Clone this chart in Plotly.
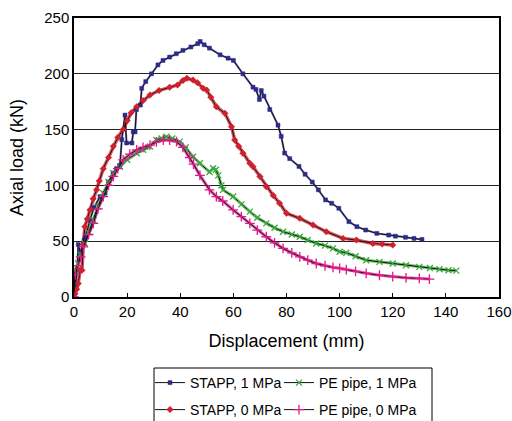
import plotly.graph_objects as go

# ---- data ----
stapp1_x = [0, 0.6, 1.2, 1.6, 2.4, 3.5, 3.8, 4.5, 6, 7.5, 9.8, 11.7, 13, 14.7, 16, 17.3,
            18, 19.2, 19.8, 21.8, 22.3, 23, 23.5, 25, 25.5, 27, 29.2, 31.6, 33.5, 36, 38.5,
            41, 44, 46.6, 47.5, 49, 51, 55, 58, 60, 63.6, 67.4, 68.5, 69.8, 70.5, 71.5,
            73.7, 76.8, 78, 79.3, 81.2, 84.7, 87, 89.7, 92, 94.7, 97, 99.7, 103.5, 106.5,
            109.8, 114, 118.5, 121, 124.8, 128, 131]
stapp1_y = [0, 12, 24, 47, 40, 48, 51, 55, 69, 80, 90, 93, 103, 111, 115, 118,
            141, 163, 138, 138, 148, 148, 168, 172, 187, 193, 200, 208, 212, 215, 218,
            221, 224, 227, 229, 226, 223, 217, 214, 212, 200, 188, 186, 177, 185, 180,
            168, 154, 144, 129, 124, 117, 110, 103, 96, 87, 84, 79.5, 67.5, 63,
            60, 57, 55.5, 54.5, 53.5, 52.5, 51.6]

stapp0_x = [0, 0.4, 1.0, 1.6, 2.3, 3.0, 3.5, 4.1, 5, 6, 7.2, 8.5, 9.5, 11, 13, 14.8,
            16.5, 18.5, 20, 21.5, 23.6, 26, 28.6, 32, 36, 39, 41, 42.5, 44.8, 46.5, 48.6,
            49.9, 51.5, 53.6, 56.8, 59.3, 60.5, 62, 63.6, 66.2, 67.4, 70, 72.4, 75, 77.4, 80,
            85, 90, 95, 101.3, 106.3, 112.5, 116, 120]
stapp0_y = [0, 3, 7, 12, 24, 24, 47, 63, 70, 78, 88, 96, 104, 115, 125, 135,
            143, 150, 158, 165, 170.5, 176, 181, 185, 188, 190, 194, 196, 194.4, 192, 187,
            185.5, 179, 170.5, 164.6, 152.6, 140.7, 135, 128.8, 119.8, 116.8, 108, 98.8, 91, 84, 75,
            70.5, 64.5, 58.5, 52.5, 51, 48, 47.5, 46.6]

pe1_x = [0, 0.4, 1.5, 2.5, 4.1, 5.5, 7.3, 9, 11, 13, 14.8, 17.3, 20, 23.6, 26, 28.6, 31,
         33, 34.8, 37, 39.8, 42, 44.8, 47.4, 51, 52.4, 53.4, 54.3, 55.5, 56.1, 59.9, 63,
         66.2, 69, 72.4, 75.5, 78.7, 82, 85, 88, 91.2, 94.5, 97.5, 100, 102.5, 106, 110,
         115, 120, 125, 130, 134, 137.6, 141, 143.9]
pe1_y = [0, 24, 30, 38, 48, 58, 69, 81, 93, 103, 111, 116.8, 123, 128.8, 132, 134.8, 140.7,
         142, 143.6, 142, 139.2, 134, 125.7, 119.8, 112, 115.3, 114, 109, 100, 96, 90, 83,
         76.5, 71, 66, 62, 58.5, 56, 54, 51, 48, 46, 43.6, 40.6, 39.7, 36.5, 33,
         31.5, 30, 28.5, 27, 26, 24.8, 24, 23.6]

pe0_x = [0, 0.5, 1.5, 2.5, 3.5, 5.5, 7.3, 9, 11, 13, 14.8, 16.5, 18.5, 21, 23.6, 26,
         28.6, 31, 33.6, 36, 38.6, 41, 43.6, 45, 47.4, 51, 53.6, 56, 59.9, 63, 66.2,
         69, 72.4, 75.5, 78.7, 82, 85, 88, 91.2, 94.5, 97.5, 100, 102.5, 106, 110, 115,
         120, 125, 130, 133.8]
pe0_y = [0, 20, 28, 36, 45, 56, 66, 79, 90, 100, 108, 115, 122.8, 128, 131.7, 134,
         136, 139, 140.7, 140.5, 139.2, 134, 125, 119, 109, 96, 90, 86, 78, 72, 66,
         60, 54, 48.5, 43.6, 39.5, 36, 33, 30, 28, 26.5, 25.7, 24.5, 23, 21.2, 19.5,
         18.2, 17.2, 16.6, 16.1]

series_names = ["STAPP, 1 MPa", "PE pipe, 1 MPa", "STAPP, 0 MPa", "PE pipe, 0 MPa"]
series_x = [stapp1_x, pe1_x, stapp0_x, pe0_x]
series_y = [stapp1_y, pe1_y, stapp0_y, pe0_y]
colors = ["#2E2B86", "#3AA83A", "#D0202E", "#E0188A"]
symbols = ["square", "x-thin", "diamond", "cross-thin"]
sizes = [4, 6, 5, 7]
line_w = [0.5, 1.3, 0.5, 1.3]
band_widths = [2, 3, 3.5, 3]
legend_ids = ["legend", "legend2", "legend3", "legend4"]

x_ticks = [0, 20, 40, 60, 80, 100, 120, 140, 160]
y_ticks = [0, 50, 100, 150, 200, 250]

fig = go.Figure()
# coloured bands under the dense markers
for xs, ys, c, bw in zip(series_x, series_y, colors, band_widths):
    fig.add_trace(go.Scatter(x=xs, y=ys, mode="lines", line=dict(color=c, width=bw),
                             opacity=0.75, showlegend=False, hoverinfo="skip"))
for name, xs, ys, c, s, sz, lw, lg in zip(series_names, series_x, series_y, colors, symbols,
                                         sizes, line_w, legend_ids):
    fig.add_trace(go.Scatter(
        x=xs, y=ys, name=name, mode="lines+markers", legend=lg,
        line=dict(color="#111111", width=1),
        marker=dict(symbol=s, size=sz, color=c, line=dict(color=c, width=lw)),
    ))

font_family = "Liberation Sans, Arial, Helvetica, sans-serif"
W, H = 512, 421
ML, MR, MT, MB = 74, 13, 18, 124
PW, PH = W - ML - MR, H - MT - MB
leg_common = dict(xref="container", yref="container", xanchor="left", yanchor="middle",
                  bgcolor="rgba(0,0,0,0)", borderwidth=0, font=dict(size=14),
                  orientation="h")
col_x = [150 / W, 279 / W, 150 / W, 279 / W]
row_y = [1 - 383 / H, 1 - 383 / H, 1 - 410 / H, 1 - 410 / H]

layout_legends = {}
for lg, lx, ly in zip(legend_ids, col_x, row_y):
    layout_legends[lg] = dict(x=lx, y=ly, **leg_common)

fig.update_layout(
    width=W, height=H,
    margin=dict(l=ML, r=MR, t=MT, b=MB),
    paper_bgcolor="white", plot_bgcolor="white",
    font=dict(family=font_family, size=15, color="black"),
    xaxis=dict(
        range=[0, 160], tickvals=x_ticks, ticks="inside", ticklen=4, tickcolor="black",
        showgrid=False, zeroline=False, showline=True, linecolor="black", linewidth=1.5,
        mirror=True, automargin=False, ticklabeloverflow="allow",
        title=dict(text="Displacement (mm)", font=dict(size=18), standoff=16),
        tickfont=dict(size=15),
    ),
    yaxis=dict(
        range=[0, 250], tickvals=y_ticks, ticks="", showgrid=True, gridcolor="#222222",
        gridwidth=1, zeroline=False, showline=True, linecolor="black", linewidth=1.5,
        mirror=True, automargin=False,
        title=dict(text="Axial load (kN)", font=dict(size=18), standoff=16),
        tickfont=dict(size=15),
    ),
    showlegend=True,
    **layout_legends,
)

# legend frame (open at the bottom, cut by the picture edge)
fig.add_shape(type="rect", xref="paper", yref="paper",
              x0=(154 - ML) / PW, x1=(432 - ML) / PW,
              y0=(H - MB - 368) / PH, y1=(H - MB - 430) / PH,
              line=dict(color="black", width=1), fillcolor="rgba(0,0,0,0)")

fig.write_html("out.html", config={"displayModeBar": False},
               post_script="document.body.style.margin='0';")
